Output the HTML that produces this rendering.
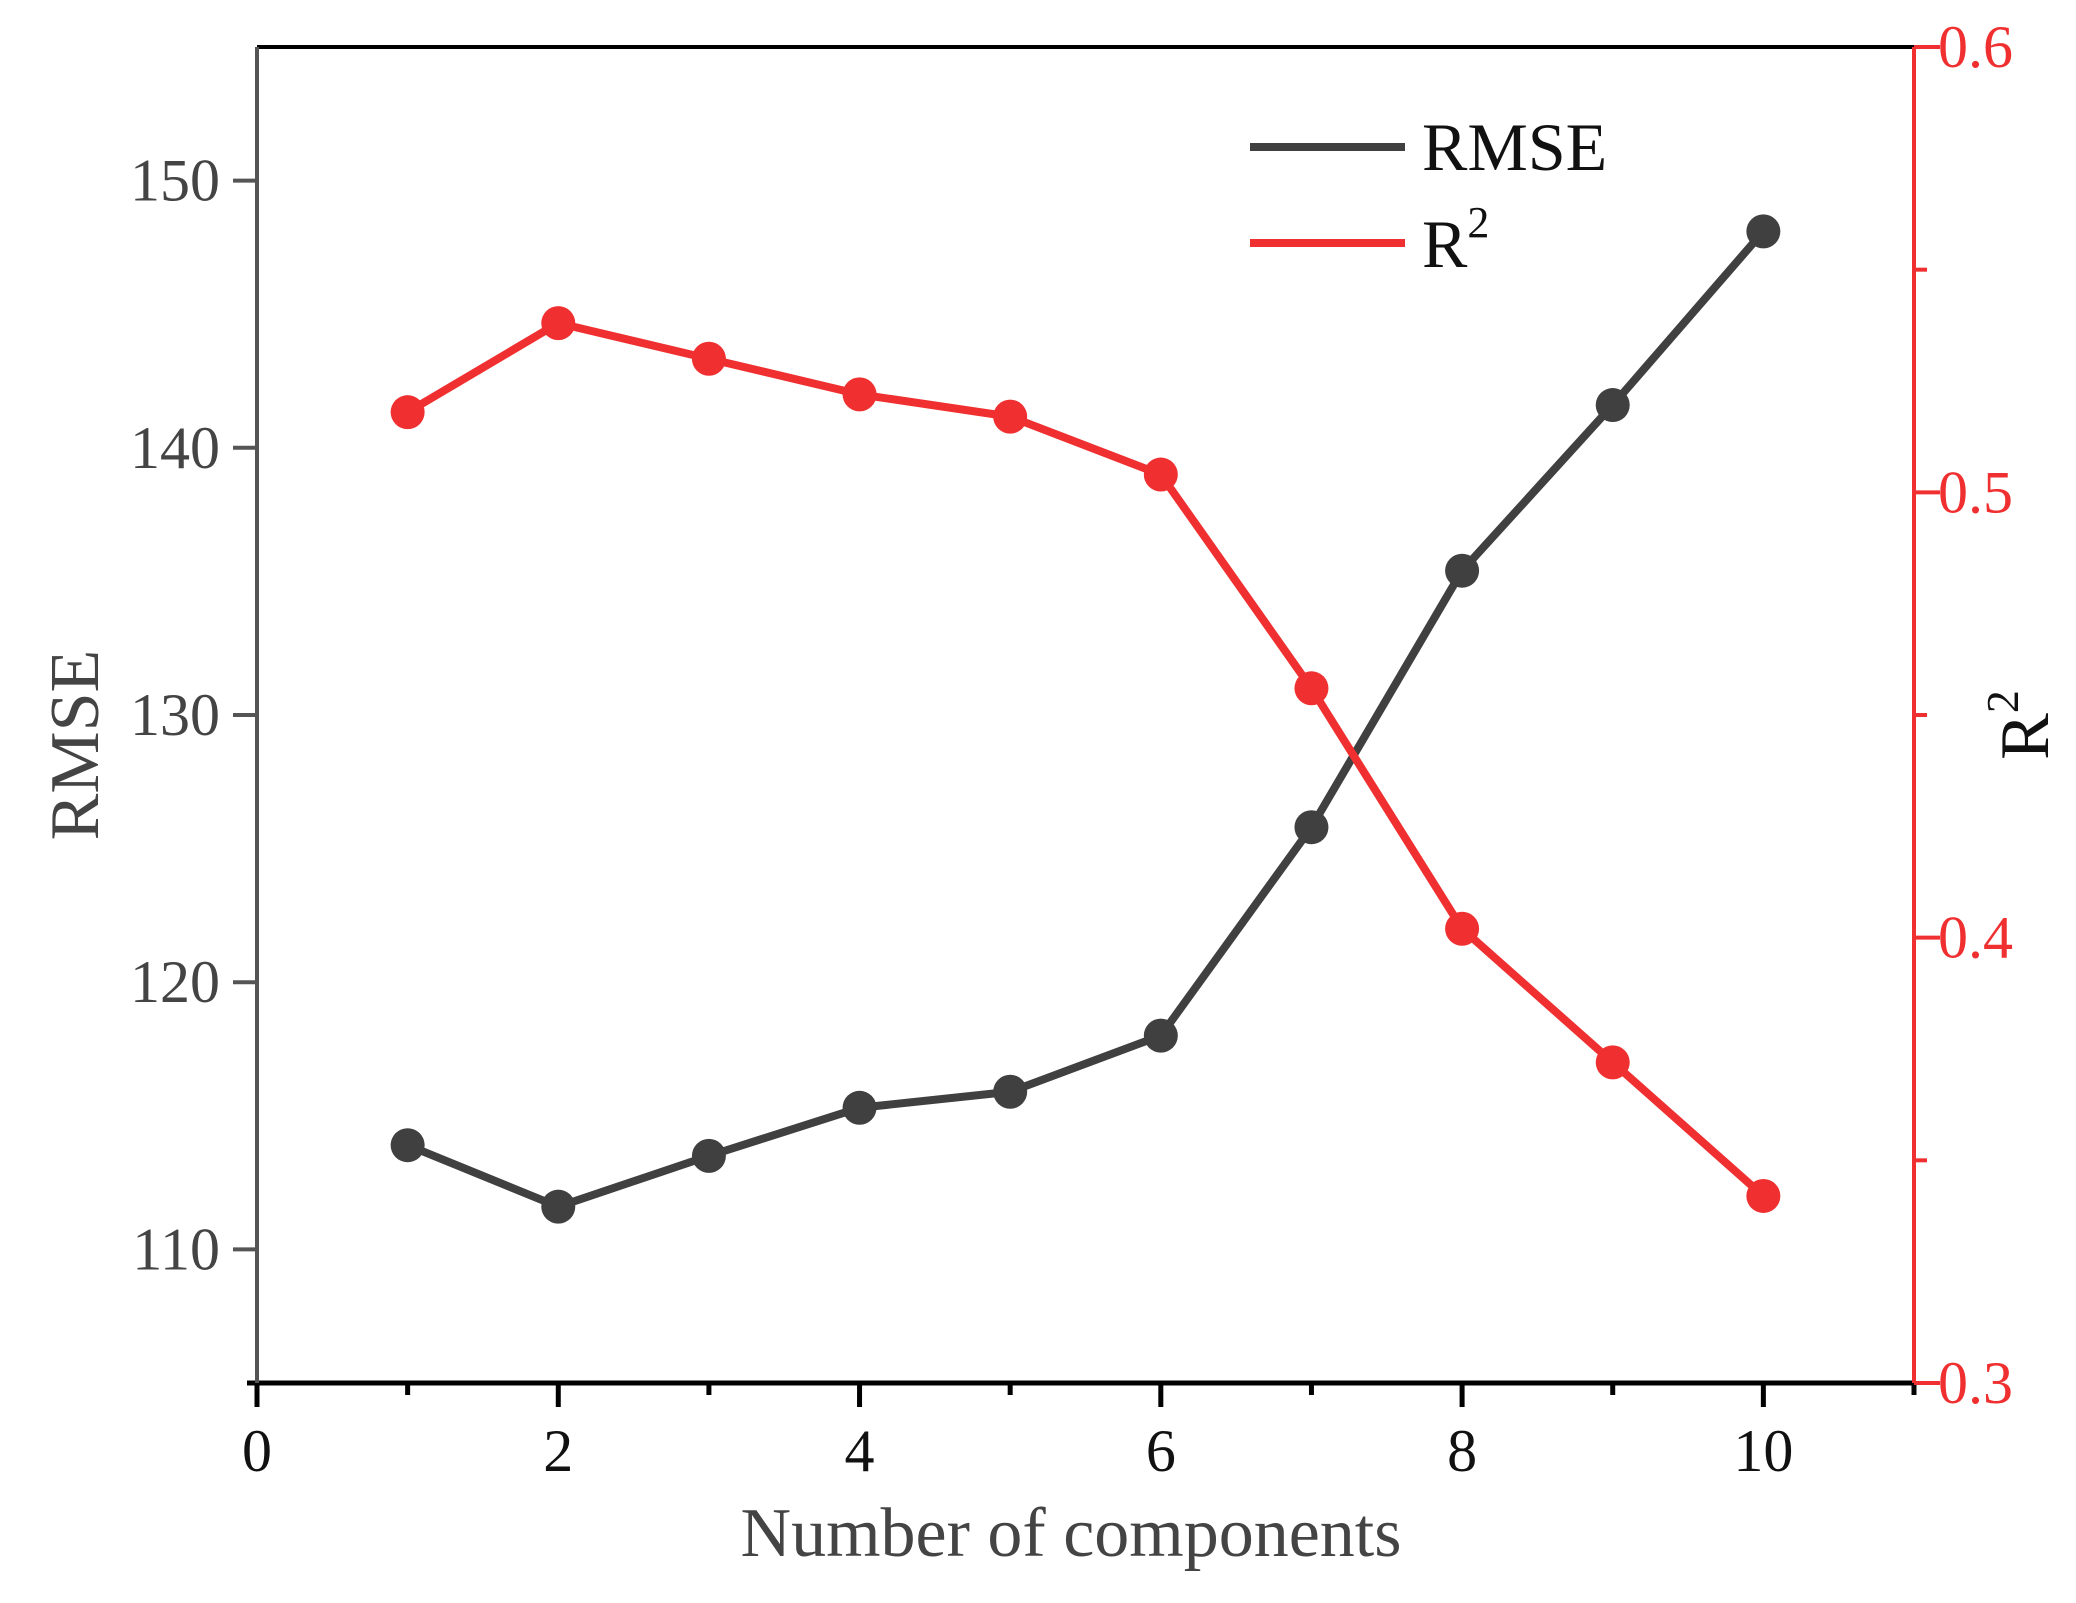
<!DOCTYPE html>
<html><head><meta charset="utf-8"><style>
html,body{margin:0;padding:0;background:#fff;}
svg{display:block;}
text{font-family:"Liberation Serif",serif;}
</style></head><body>
<svg id="chart" width="2076" height="1603" viewBox="0 0 2076 1603" xmlns="http://www.w3.org/2000/svg"></svg>
<script>
const components=[1,2,3,4,5,6,7,8,9,10];
const rmseValues=[113.9,111.6,113.5,115.3,115.9,118.0,125.8,135.4,141.6,148.1];
const r2Values=[0.518,0.538,0.530,0.522,0.517,0.504,0.456,0.402,0.372,0.342];
const xTicks=[0,2,4,6,8,10];
const xMinor=[1,3,5,7,9,11];
const leftTicks=[110,120,130,140,150];
const rightTicks=[0.3,0.4,0.5,0.6];
const rightMinor=[0.35,0.45,0.55];

const L=257,R=1914,T=47,B=1383;
const X=v=>L+(v-0)/11*(R-L);
const YL=v=>B-(v-105)/50*(B-T);
const YR=v=>B-(v-0.3)/0.3*(B-T);
const svg=document.getElementById('chart');
const NS='http://www.w3.org/2000/svg';
function mk(tag,attrs,parent){const e=document.createElementNS(NS,tag);for(const k in attrs)e.setAttribute(k,attrs[k]);(parent||svg).appendChild(e);return e;}

let e;
e=mk('line',{x1:L,y1:T,x2:R,y2:T,stroke:'#000','stroke-width':4});


e=mk('line',{x1:L-10,y1:B,x2:R,y2:B,stroke:'#000','stroke-width':5});


e=mk('line',{x1:L,y1:T,x2:L,y2:B,stroke:'#555','stroke-width':4});


e=mk('line',{x1:R,y1:T,x2:R,y2:B,stroke:'#f03030','stroke-width':4});



xTicks.forEach(v=>{
 e=mk('line',{x1:X(v),y1:B,x2:X(v),y2:B+24,stroke:'#000','stroke-width':5});
 
 
 e=mk('text',{x:X(v),y:B+88,'text-anchor':'middle','font-size':60,fill:'#111'});
 e.textContent=v;
 
 
});
xMinor.forEach(v=>{
 e=mk('line',{x1:X(v),y1:B,x2:X(v),y2:B+12,stroke:'#000','stroke-width':5});
 
 
});
leftTicks.forEach(v=>{
 e=mk('line',{x1:L-24,y1:YL(v),x2:L,y2:YL(v),stroke:'#555','stroke-width':4});
 
 
 e=mk('text',{x:L-37,y:YL(v)+20,'text-anchor':'end','font-size':60,fill:'#444'});
 e.textContent=v;
 
 
});
rightTicks.forEach(v=>{
 e=mk('line',{x1:R,y1:YR(v),x2:R+26,y2:YR(v),stroke:'#f03030','stroke-width':4});
 
 
 e=mk('text',{x:R+24,y:YR(v)+20,'font-size':60,fill:'#f03030'});
 e.textContent=v.toFixed(1);
 
 
});
rightMinor.forEach(v=>{
 e=mk('line',{x1:R,y1:YR(v),x2:R+13,y2:YR(v),stroke:'#f03030','stroke-width':4});
 
 
});

function series(vals,Y,color,name){
 const g=mk('g',{});
 
 
 const pts=components.map((c,i)=>X(c)+','+Y(vals[i])).join(' ');
 const p=mk('polyline',{points:pts,fill:'none',stroke:color,'stroke-width':8,'stroke-linejoin':'round'},g);
 
 
 components.forEach((c,i)=>{
  const m=mk('circle',{cx:X(c),cy:Y(vals[i]),r:17,fill:color},g);
  
  
 });
}
series(rmseValues,YL,'#404040','rmse');
series(r2Values,YR,'#f03030','r2');

const lg=mk('g',{});


e=mk('line',{x1:1250,y1:147,x2:1405,y2:147,stroke:'#404040','stroke-width':8},lg);


e=mk('text',{x:1422,y:170,'font-size':68,fill:'#111'},lg);
e.textContent='RMSE';


e=mk('line',{x1:1250,y1:243,x2:1405,y2:243,stroke:'#f03030','stroke-width':8},lg);


e=mk('text',{x:1422,y:267,'font-size':68,fill:'#111'},lg);
e.innerHTML='R<tspan dy="-30" font-size="44">2</tspan>';



e=mk('text',{x:1071,y:1556,'text-anchor':'middle','font-size':70,fill:'#444'});
e.textContent='Number of components';


e=mk('text',{x:0,y:0,'text-anchor':'middle','font-size':70,fill:'#444',transform:'translate(98,745) rotate(-90)'});
e.textContent='RMSE';


e=mk('text',{x:0,y:0,'text-anchor':'middle','font-size':70,fill:'#111',transform:'translate(2048,725) rotate(-90)'});
e.innerHTML='R<tspan dy="-30" font-size="46">2</tspan>';


</script>
</body></html>
